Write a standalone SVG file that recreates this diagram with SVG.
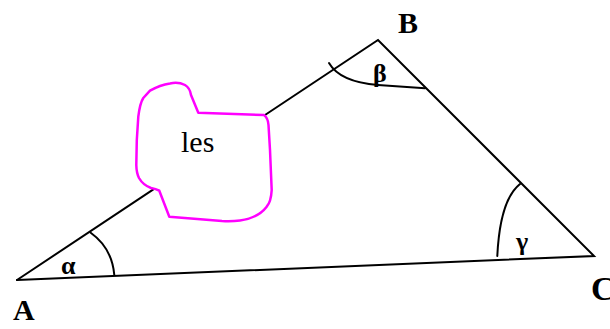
<svg xmlns="http://www.w3.org/2000/svg" width="610" height="329" viewBox="0 0 610 329">
<style>
.ln{stroke:#000;stroke-width:2;fill:none;stroke-linecap:round}
.lbl{font-family:"Liberation Serif",serif;font-weight:bold;fill:#000}
.gr{font-family:"Liberation Serif",serif;font-weight:bold;font-size:26px;fill:#000}
.tx{font-family:"Liberation Serif",serif;font-size:30px;fill:#000}
</style>
<rect width="610" height="329" fill="#fff"/>
<g id="connectors">
<path class="ln" d="M17,280 L153,189.6"/>
<path class="ln" d="M265,115 L378,40 L594,256 L17,280"/>
<path class="ln" d="M90.7,232.7 Q112,248 114.3,275"/>
<path class="ln" d="M329,63 Q340,82 378,85 Q405,87 425,88.3"/>
<path class="ln" d="M520,184 Q500,200 497.3,256"/>
</g>
<g id="les">
<path d="M150,90.7 Q160,85 170,83.5 Q178,81.5 185,85 Q190,88 191,95 L198.3,112.7 L264,115 Q268,118 268.5,125 L270,150 L271.7,190 Q271,202 266.7,206.7 Q258,218 240,220.5 Q232,221.5 222,221 L169.3,216.7 L159.3,190.7 Q156,188.8 151,188 Q143,185 139,178 Q136.5,173 136.3,165 L136.8,140 L138.3,116.7 Q140,103 143.3,98 Z" fill="none" stroke="#ff00ff" stroke-width="2.5" stroke-linejoin="round"/>
<text class="tx" x="181" y="152">les</text>
</g>
<g id="A"><text class="lbl" x="13" y="320" font-size="30">A</text><text class="gr" x="61" y="274">α</text></g>
<g id="B"><text class="lbl" x="398" y="33" font-size="30">B</text><text class="gr" x="373" y="82">β</text></g>
<g id="C"><text class="lbl" x="591" y="300" font-size="34">C</text><text class="gr" x="516" y="250">γ</text></g>
</svg>
